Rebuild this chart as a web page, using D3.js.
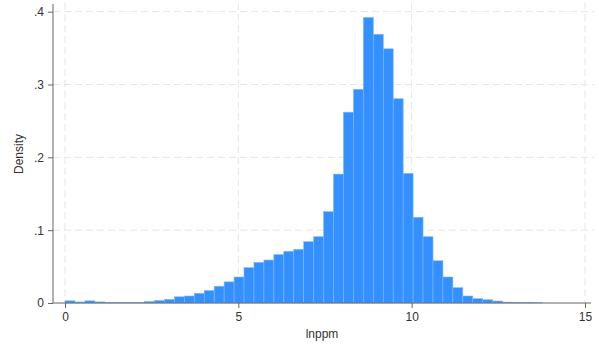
<!DOCTYPE html>
<html>
<head>
<meta charset="utf-8">
<script src="https://cdn.jsdelivr.net/npm/d3@7"></script>
<style>
  html, body { margin: 0; padding: 0; background: #fff; }
  svg { display: block; font-family: "Liberation Sans", Arial, sans-serif; }
</style>
</head>
<body>
<script>
// histogram of lnppm: bins start at 0, equal width
const binStart = 0;
const binWidth = 0.2869;
const densities = [
  0.003, 0.0014, 0.003, 0.0015, 0.0009, 0.0008, 0.0006, 0.0008,
  0.002, 0.0035, 0.005, 0.0085, 0.0096, 0.0133, 0.017, 0.023,
  0.029, 0.0357, 0.0485, 0.0558, 0.059, 0.0664, 0.071, 0.0737,
  0.0842, 0.091, 0.1254, 0.177, 0.262, 0.2934, 0.392, 0.369,
  0.349, 0.2805, 0.178, 0.1177, 0.091, 0.058, 0.0357, 0.021,
  0.0096, 0.006, 0.0045, 0.0027, 0.0012, 0.0008, 0.0006, 0.0004
];
const xTicks = [0, 5, 10, 15];
const yTicks = [0, 0.1, 0.2, 0.3, 0.4];
const xTitle = 'lnppm';
const yTitle = 'Density';

const width = 599;
const height = 349;

const svg = d3.select('body')
              .append('svg')
              .attr('width', width)
              .attr('height', height);

const x = d3.scaleLinear().domain([0, 15]).range([65, 585]);
const y = d3.scaleLinear().domain([0, 0.4]).range([303, 11.7]);

// plot region edges
const plotLeft = 53, plotRight = 591, plotTop = 3, plotBottom = 303;

const bins = densities.map((d, i) => ({
  x0: binStart + i * binWidth,
  x1: binStart + (i + 1) * binWidth,
  d: d
}));

// grid
const grid = svg.append('g')
                .attr('stroke', '#e6e6e6')
                .attr('stroke-width', 1)
                .attr('stroke-dasharray', '7,4');

grid.selectAll('line.h')
    .data(yTicks.filter(t => t > 0))
    .enter()
    .append('line')
    .attr('x1', plotLeft)
    .attr('x2', plotRight + 3)
    .attr('y1', d => y(d))
    .attr('y2', d => y(d));

grid.selectAll('line.v')
    .data(xTicks)
    .enter()
    .append('line')
    .attr('x1', d => x(d))
    .attr('x2', d => x(d))
    .attr('y1', plotTop)
    .attr('y2', plotBottom);

// bars
svg.selectAll('rect')
   .data(bins)
   .enter()
   .append('rect')
   .attr('x', b => x(b.x0))
   .attr('y', b => y(b.d))
   .attr('width', b => x(b.x1) - x(b.x0))
   .attr('height', b => y(0) - y(b.d))
   .attr('fill', '#3590ff')
   .attr('stroke', '#7cb8ff')
   .attr('stroke-width', 0.6);

// axes
const xAxis = d3.axisBottom(x)
                .tickValues(xTicks)
                .tickSize(5)
                .tickPadding(4)
                .tickFormat(d3.format('d'));
const gx = svg.append('g')
              .attr('transform', 'translate(0,' + plotBottom + ')')
              .call(xAxis);

const yAxis = d3.axisLeft(y)
                .tickValues(yTicks)
                .tickSize(5)
                .tickPadding(4)
                .tickFormat(d => d === 0 ? '0' : d3.format('.1f')(d).replace(/^0/, ''));
const gy = svg.append('g')
              .attr('transform', 'translate(' + plotLeft + ',0)')
              .call(yAxis);

[gx, gy].forEach(g => {
  g.select('.domain').remove();
  g.selectAll('line').attr('stroke', '#666');
  g.selectAll('text')
   .attr('fill', '#333')
   .style('font-size', '12px')
   .style('font-family', '"Liberation Sans", Arial, sans-serif');
});

svg.append('line')
   .attr('x1', plotLeft).attr('x2', plotRight)
   .attr('y1', plotBottom).attr('y2', plotBottom)
   .attr('stroke', '#666');
svg.append('line')
   .attr('x1', plotLeft).attr('x2', plotLeft)
   .attr('y1', plotTop + 1).attr('y2', plotBottom)
   .attr('stroke', '#666');

// titles
svg.append('text')
   .attr('x', 322)
   .attr('y', 338)
   .attr('text-anchor', 'middle')
   .attr('fill', '#333')
   .style('font-size', '12px')
   .text(xTitle);

svg.append('text')
   .attr('transform', 'translate(23,154) rotate(-90)')
   .attr('text-anchor', 'middle')
   .attr('fill', '#333')
   .style('font-size', '12px')
   .text(yTitle);
</script>
</body>
</html>
